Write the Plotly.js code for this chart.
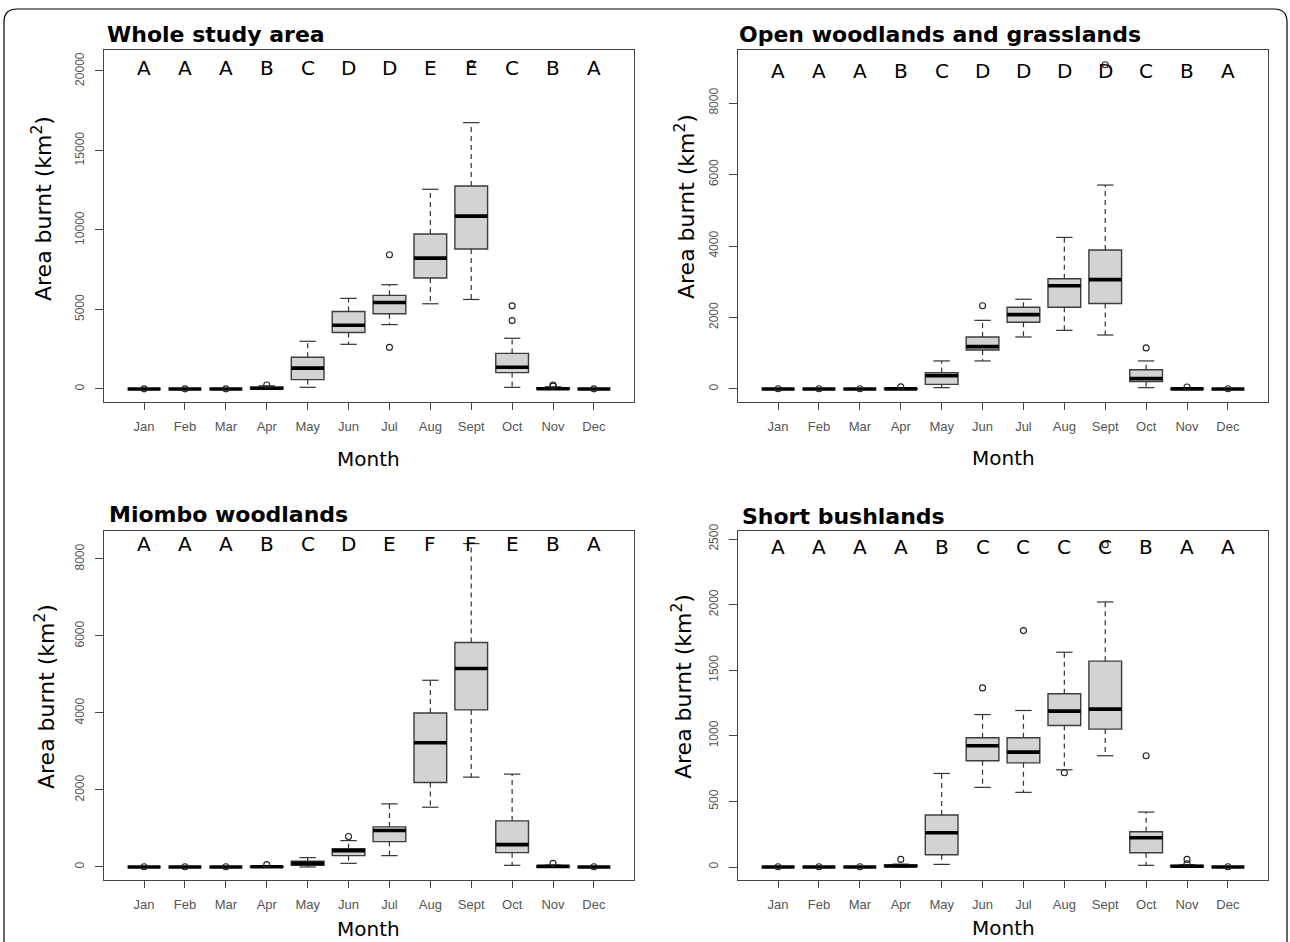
<!DOCTYPE html>
<html><head><meta charset="utf-8">
<script src="https://cdn.plot.ly/plotly-3.0.1.min.js"></script>
<style>html,body{margin:0;padding:0;background:#fff;} #chart{width:1290px;height:942px;}</style>
</head><body><div id="chart"></div>
<script>
// ---------- data ----------
const months = ['Jan','Feb','Mar','Apr','May','Jun','Jul','Aug','Sept','Oct','Nov','Dec'];
const monthPos = [1,2,3,4,5,6,7,8,9,10,11,12];

// Whole study area
const wholeQ1  = [0, 0, 0, 20, 590, 3550, 4730, 6980, 8800, 1030, 0, 0];
const wholeMed = [0, 0, 0, 50, 1310, 4010, 5440, 8230, 10870, 1370, 20, 0];
const wholeQ3  = [0, 0, 0, 110, 2000, 4870, 5890, 9750, 12770, 2240, 60, 0];
const wholeLo  = [0, 0, 0, 0, 105, 2810, 4050, 5360, 5630, 105, 0, 0];
const wholeHi  = [0, 0, 0, 200, 3000, 5700, 6560, 12560, 16750, 3190, 140, 0];
const wholeOutMonth = [1, 2, 3, 4, 7, 7, 9, 10, 10, 11, 11, 12];
const wholeOutVal   = [10, 10, 10, 250, 8440, 2620, 20470, 5230, 4300, 180, 250, 10];
const wholeLetters  = ['A','A','A','B','C','D','D','E','E','C','B','A'];

// Open woodlands and grasslands
const openQ1  = [0, 0, 0, 0, 130, 1090, 1865, 2285, 2390, 205, 0, 0];
const openMed = [0, 0, 0, 2, 375, 1185, 2080, 2890, 3060, 290, 3, 0];
const openQ3  = [0, 0, 0, 8, 457, 1455, 2285, 3085, 3890, 540, 8, 0];
const openLo  = [0, 0, 0, 0, 37, 785, 1455, 1640, 1510, 37, 0, 0];
const openHi  = [0, 0, 0, 15, 785, 1920, 2510, 4240, 5705, 785, 15, 0];
const openOutMonth = [1, 2, 3, 4, 6, 9, 10, 11, 12];
const openOutVal   = [5, 5, 5, 60, 2330, 9070, 1150, 55, 5];
const openLetters  = ['A','A','A','B','C','D','D','D','D','C','B','A'];

// Miombo woodlands
const miomboQ1  = [0, 0, 0, 0, 43, 295, 660, 2195, 4080, 373, 0, 0];
const miomboMed = [0, 0, 0, 5, 95, 425, 946, 3228, 5154, 581, 15, 0];
const miomboQ3  = [0, 0, 0, 10, 148, 477, 1041, 4000, 5831, 1197, 30, 0];
const miomboLo  = [0, 0, 0, 0, 0, 95, 295, 1553, 2334, 43, 0, 0];
const miomboHi  = [0, 0, 0, 20, 243, 685, 1640, 4850, 8400, 2412, 50, 0];
const miomboOutMonth = [1, 2, 3, 4, 6, 11, 12];
const miomboOutVal   = [5, 5, 5, 61, 790, 95, 5];
const miomboLetters  = ['A','A','A','B','C','D','E','F','F','E','B','A'];

// Short bushlands
const shortQ1  = [0, 0, 0, 3, 94, 810, 794, 1079, 1051, 109, 2, 0];
const shortMed = [0, 0, 0, 8, 261, 924, 876, 1188, 1203, 223, 6, 0];
const shortQ3  = [0, 0, 0, 15, 396, 985, 985, 1320, 1569, 269, 12, 0];
const shortLo  = [0, 0, 0, 0, 20, 607, 569, 741, 848, 13, 0, 0];
const shortHi  = [0, 0, 0, 22, 713, 1162, 1193, 1637, 2020, 419, 18, 0];
const shortOutMonth = [1, 2, 3, 4, 6, 7, 8, 9, 10, 11, 11, 12];
const shortOutVal   = [2, 2, 2, 58, 1365, 1802, 718, 2457, 848, 25, 58, 2];
const shortLetters  = ['A','A','A','A','B','C','C','C','C','B','A','A'];

const titles = ['Whole study area', 'Open woodlands and grasslands', 'Miombo woodlands', 'Short bushlands'];
const yTicks = [[0,5000,10000,15000,20000],[0,2000,4000,6000,8000],[0,2000,4000,6000,8000],[0,500,1000,1500,2000,2500]];

// ---------- layout helpers ----------
const W = 1290, H = 942;
const X = px => px / W;
const Y = py => 1 - py / H;

const panels = [
  {q1: wholeQ1, med: wholeMed, q3: wholeQ3, lo: wholeLo, hi: wholeHi, om: wholeOutMonth, ov: wholeOutVal, letters: wholeLetters,
   frame: [104, 634, 50, 402], yr: [-818, 21320], letY: 0.949, title: [105, 35], ytitle: [42, 209], month: [369, 459]},
  {q1: openQ1, med: openMed, q3: openQ3, lo: openLo, hi: openHi, om: openOutMonth, ov: openOutVal, letters: openLetters,
   frame: [738, 1268, 50, 402], yr: [-364, 9483], letY: 0.94, title: [737, 35], ytitle: [685, 207], month: [1003, 458]},
  {q1: miomboQ1, med: miomboMed, q3: miomboQ3, lo: miomboLo, hi: miomboHi, om: miomboOutMonth, ov: miomboOutVal, letters: miomboLetters,
   frame: [104, 634, 531, 880], yr: [-338, 8727], letY: 0.963, title: [107, 514], ytitle: [45, 697], month: [369, 929]},
  {q1: shortQ1, med: shortMed, q3: shortQ3, lo: shortLo, hi: shortHi, om: shortOutMonth, ov: shortOutVal, letters: shortLetters,
   frame: [738, 1268, 531, 880], yr: [-99, 2561], letY: 0.954, title: [740, 516], ytitle: [682, 687], month: [1003, 928]}
];

const traces = [];
const layout = {
  width: W, height: H, margin: {l: 0, r: 0, t: 0, b: 0},
  paper_bgcolor: '#ffffff', plot_bgcolor: '#ffffff',
  showlegend: false, hovermode: false,
  annotations: [], shapes: []
};

const frameColor = '#444444';
const tickColor = '#555555';

panels.forEach((p, k) => {
  const s = k === 0 ? '' : String(k + 1);
  const xa = 'x' + s, ya = 'y' + s;

  traces.push({
    type: 'box', xaxis: xa, yaxis: ya, x: monthPos,
    q1: p.q1, median: p.med, q3: p.q3, lowerfence: p.q1, upperfence: p.q3,
    width: 0.8, boxpoints: false, fillcolor: '#d3d3d3',
    line: {color: '#3d3d3d', width: 1.4}, hoverinfo: 'skip'
  });

  const wx = [], wy = [], cx = [], cy = [], mx = [], my = [];
  monthPos.forEach((m, i) => {
    wx.push(m, m, null, m, m, null);
    wy.push(p.q3[i], p.hi[i], null, p.q1[i], p.lo[i], null);
    cx.push(m - 0.2, m + 0.2, null, m - 0.2, m + 0.2, null);
    cy.push(p.hi[i], p.hi[i], null, p.lo[i], p.lo[i], null);
    mx.push(m - 0.4, m + 0.4, null);
    my.push(p.med[i], p.med[i], null);
  });
  traces.push({type: 'scatter', mode: 'lines', xaxis: xa, yaxis: ya, x: wx, y: wy,
    line: {color: '#333333', width: 1.2, dash: '5px,4px'}, hoverinfo: 'skip'});
  traces.push({type: 'scatter', mode: 'lines', xaxis: xa, yaxis: ya, x: cx, y: cy,
    line: {color: '#333333', width: 1.2}, hoverinfo: 'skip'});
  traces.push({type: 'scatter', mode: 'lines', xaxis: xa, yaxis: ya, x: mx, y: my,
    line: {color: '#000000', width: 3.6}, hoverinfo: 'skip'});
  traces.push({type: 'scatter', mode: 'markers', xaxis: xa, yaxis: ya, x: p.om, y: p.ov,
    marker: {symbol: 'circle-open', size: 6, color: '#222222', line: {width: 1.1}}, hoverinfo: 'skip'});

  const [fl, fr, ft, fb] = p.frame;
  layout['xaxis' + s] = {
    domain: [X(fl), X(fr)], anchor: ya, range: [0.02, 12.98],
    tickmode: 'array', tickvals: monthPos, ticktext: months,
    ticks: 'outside', ticklen: 7, tickwidth: 1, tickcolor: frameColor, ticklabelstandoff: 5,
    showline: true, mirror: true, linecolor: frameColor, linewidth: 1.3,
    showgrid: false, zeroline: false, fixedrange: true,
    tickfont: {family: 'Liberation Sans, Arial, sans-serif', size: 13, color: tickColor}
  };
  layout['yaxis' + s] = {
    domain: [Y(fb), Y(ft)], anchor: xa, range: p.yr,
    tickmode: 'array', tickvals: yTicks[k], ticktext: yTicks[k].map(String),
    ticks: 'outside', ticklen: 8, tickwidth: 1, tickcolor: frameColor, tickangle: -90, ticklabelstandoff: 6,
    showline: true, mirror: true, linecolor: frameColor, linewidth: 1.3,
    showgrid: false, zeroline: false, fixedrange: true,
    tickfont: {family: 'Liberation Sans, Arial, sans-serif', size: 12, color: tickColor}
  };

  // letters
  p.letters.forEach((L, i) => {
    layout.annotations.push({xref: xa, yref: ya + ' domain', x: monthPos[i], y: p.letY,
      text: L, showarrow: false, xanchor: 'center', yanchor: 'middle',
      font: {family: 'DejaVu Sans, sans-serif', size: 20, color: '#000'}});
  });
  // panel title
  layout.annotations.push({xref: 'paper', yref: 'paper', x: X(p.title[0]), y: Y(p.title[1]),
    text: '<b>' + titles[k] + '</b>', showarrow: false, xanchor: 'left', yanchor: 'middle',
    font: {family: 'DejaVu Sans, sans-serif', size: 22, color: '#000'}});
  // y title
  layout.annotations.push({xref: 'paper', yref: 'paper', x: X(p.ytitle[0]), y: Y(p.ytitle[1]),
    text: 'Area burnt (km<sup>2</sup>)', showarrow: false, textangle: -90, xanchor: 'center', yanchor: 'middle',
    font: {family: 'DejaVu Sans, sans-serif', size: 22, color: '#000'}});
  // x title
  layout.annotations.push({xref: 'paper', yref: 'paper', x: X(p.month[0]), y: Y(p.month[1]),
    text: 'Month', showarrow: false, xanchor: 'center', yanchor: 'middle',
    font: {family: 'DejaVu Sans, sans-serif', size: 20, color: '#000'}});
});

// outer rounded frame of the figure
layout.shapes.push({
  type: 'path', xref: 'paper', yref: 'paper', layer: 'above',
  path: `M ${X(4)},${Y(950)} L ${X(4)},${Y(22)} Q ${X(4)},${Y(9)} ${X(17)},${Y(9)} L ${X(1274)},${Y(9)} Q ${X(1287)},${Y(9)} ${X(1287)},${Y(22)} L ${X(1287)},${Y(950)}`,
  line: {color: '#000000', width: 1.2}
});

Plotly.newPlot('chart', traces, layout, {displayModeBar: false, staticPlot: true});
</script></body></html>
